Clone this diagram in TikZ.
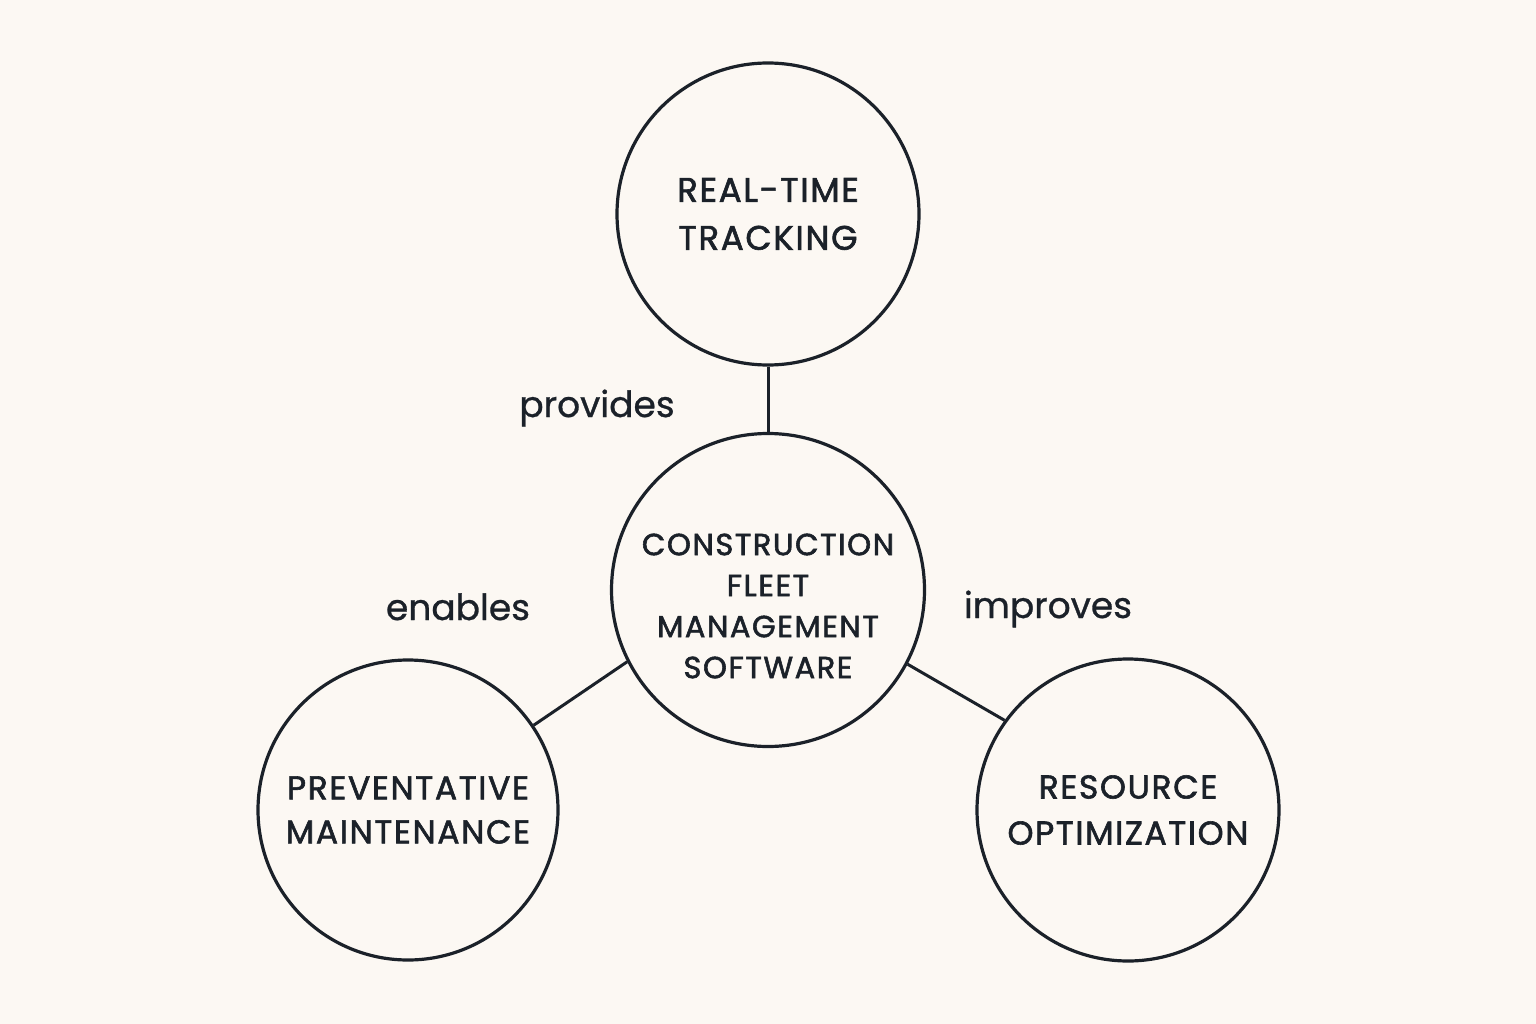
\documentclass[tikz,border=0pt]{standalone}
\usepackage{fontspec}
\setmainfont[FakeBold=0.8]{Poppins}
\newfontfamily\capsfont[LetterSpace=5,FakeBold=1.8]{Poppins}
\definecolor{bg}{HTML}{FCF8F3}
\definecolor{ink}{HTML}{1B2129}
\begin{document}
\begin{tikzpicture}[x=1pt,y=-1pt,
  bubble/.style={circle,draw=ink,line width=3.2pt,inner sep=0pt},
  btext/.style={align=center,text=ink,inner sep=0pt},
  conn/.style={draw=ink,line width=3pt},
  rel/.style={text=ink,font=\fontsize{36}{40}\selectfont,inner sep=0pt,anchor=base}]
\fill[bg] (0,0) rectangle (1536,1024);
\useasboundingbox (0,0) rectangle (1536,1024);
\node[bubble,minimum size=302pt] (rt) at (768,214) {};
\node[bubble,minimum size=313pt] (cf) at (768,590) {};
\node[bubble,minimum size=300pt] (pm) at (408,810) {};
\node[bubble,minimum size=302pt] (ro) at (1128,810) {};
\node[btext,font=\capsfont\fontsize{34}{48}\selectfont] (rtt) at (768,214) {REAL-TIME\\TRACKING};
\node[btext,font=\capsfont\fontsize{30.5}{41}\selectfont] (cft) at (768,606) {CONSTRUCTION\\FLEET\\MANAGEMENT\\SOFTWARE};
\node[btext,font=\capsfont\fontsize{33}{44}\selectfont] (pmt) at (408,810) {PREVENTATIVE\\MAINTENANCE};
\node[btext,font=\capsfont\fontsize{33}{46}\selectfont] (rot) at (1128,810) {RESOURCE\\OPTIMIZATION};
\draw[conn] (rt) -- (cf);
\draw[conn] (cf.207.6) -- (pm.34.7);
\draw[conn] (cf.332.3) -- (ro.144.9);
\node[rel] (l1) at (597,417) {provides};
\node[rel] (l2) at (458,620) {enables};
\node[rel] (l3) at (1048,618) {improves};
\end{tikzpicture}
\end{document}
